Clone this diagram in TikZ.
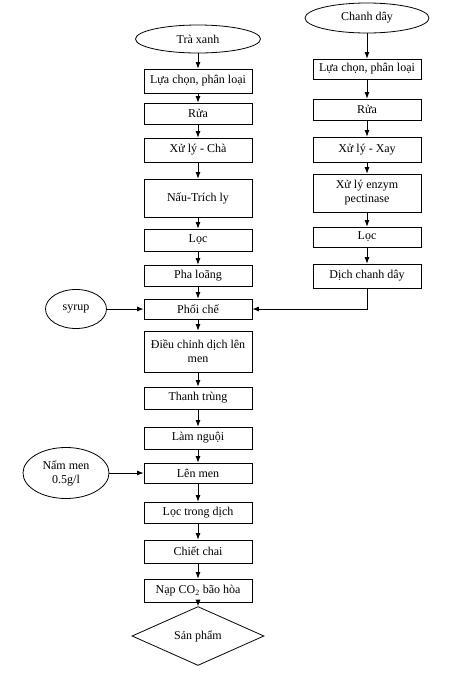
\documentclass[tikz,border=0pt]{standalone}
\usepackage{fontspec}
\setmainfont{Liberation Serif}
\usepackage{tikz}
\usetikzlibrary{arrows.meta, shapes.geometric, positioning}
\tikzset{
  >={Latex[length=6.5,width=5]},  % small filled tips
  % Blocchi del diagramma
  procbox/.style={draw, rectangle, minimum width=108, minimum height=22, inner sep=1, align=center},
  source/.style={draw, ellipse, inner sep=0, align=center},
  product/.style={draw, diamond, inner sep=0, minimum width=132, minimum height=39},
  % Connessioni
  flow/.style={->, line width=0.8}
}
\begin{document}
\begin{tikzpicture}[x=1pt, y=-1pt, font=\rmfamily\fontsize{12}{14}\selectfont, line width=0.8]
    \useasboundingbox (0,0) rectangle (454,673);
    % Colonna sinistra: tra xanh
    \node[source, minimum width=125, minimum height=28] (Tra0) at (198, 39) {Trà xanh};
    \node[procbox, minimum height=24] (Tra1) at (198, 81)    {Lựa chọn, phân loại};
    \node[procbox, minimum height=21] (Tra2) at (198, 113.5) {Rửa};
    \node[procbox, minimum height=24] (Tra3) at (198, 150)   {Xử lý - Chà};
    \node[procbox, minimum height=38] (Tra4) at (198, 198)   {Nấu-Trích ly};
    \node[procbox, minimum height=22] (Tra5) at (198, 240)   {Lọc};
    \node[procbox, minimum height=21] (Tra6) at (198, 275.5) {Pha loãng};
    \node[procbox, minimum height=20] (Mix)  at (198, 309)   {Phối chế};
    \node[procbox, minimum height=41] (Mix1) at (198, 351.5) {Điều chỉnh dịch lên\\men};
    \node[procbox, minimum height=22] (Mix2) at (198, 398)   {Thanh trùng};
    \node[procbox, minimum height=22] (Mix3) at (198, 438)   {Làm nguội};
    \node[procbox, minimum height=20] (Ferm) at (198, 473)   {Lên men};
    \node[procbox, minimum height=21] (Ferm1) at (198, 512.5) {Lọc trong dịch};
    \node[procbox, minimum height=23] (Ferm2) at (198, 551.5) {Chiết chai};
    \node[procbox, minimum height=23] (Ferm3) at (198, 590.5) {Nạp CO\textsubscript{2} bão hòa};
    \node[product] (Prod) at (198, 636) {Sản phẩm};
    % Colonna destra: chanh day
    \node[source, minimum width=124, minimum height=30] (Chanh0) at (367, 18) {Chanh dây};
    \node[procbox, minimum height=20] (Chanh1) at (367, 69)    {Lựa chọn, phân loại};
    \node[procbox, minimum height=21] (Chanh2) at (367, 109.5) {Rửa};
    \node[procbox, minimum height=25] (Chanh3) at (367, 149.5) {Xử lý - Xay};
    \node[procbox, minimum height=38] (Chanh4) at (367, 193)   {Xử lý enzym\\pectinase};
    \node[procbox, minimum height=20] (Chanh5) at (367, 237)   {Lọc};
    \node[procbox, minimum height=24] (Chanh6) at (367, 276)   {Dịch chanh dây};
    % Ingressi laterali
    \node[source, minimum width=61, minimum height=39] (Syrup) at (76, 309) {syrup};
    \node[source, minimum width=86, minimum height=51] (Yeast) at (66, 473) {Nấm men\\0.5g/l};
    \draw[flow] (Tra0)  -- (Tra1);
    \draw[flow] (Tra1)  -- (Tra2);
    \draw[flow] (Tra2)  -- (Tra3);
    \draw[flow] (Tra3)  -- (Tra4);
    \draw[flow] (Tra4)  -- (Tra5);
    \draw[flow] (Tra5)  -- (Tra6);
    \draw[flow] (Tra6)  -- (Mix);
    \draw[flow] (Mix)   -- (Mix1);
    \draw[flow] (Mix1)  -- (Mix2);
    \draw[flow] (Mix2)  -- (Mix3);
    \draw[flow] (Mix3)  -- (Ferm);
    \draw[flow] (Ferm)  -- (Ferm1);
    \draw[flow] (Ferm1) -- (Ferm2);
    \draw[flow] (Ferm2) -- (Ferm3);
    \draw[flow] (Ferm3) -- (Prod);
    \draw[flow] (Chanh0) -- (Chanh1);
    \draw[flow] (Chanh1) -- (Chanh2);
    \draw[flow] (Chanh2) -- (Chanh3);
    \draw[flow] (Chanh3) -- (Chanh4);
    \draw[flow] (Chanh4) -- (Chanh5);
    \draw[flow] (Chanh5) -- (Chanh6);
    \draw[flow] (Chanh6.south) |- (Mix.east);
    \draw[flow] (Syrup) -- (Mix);
    \draw[flow] (Yeast) -- (Ferm);
  \end{tikzpicture}
\end{document}
